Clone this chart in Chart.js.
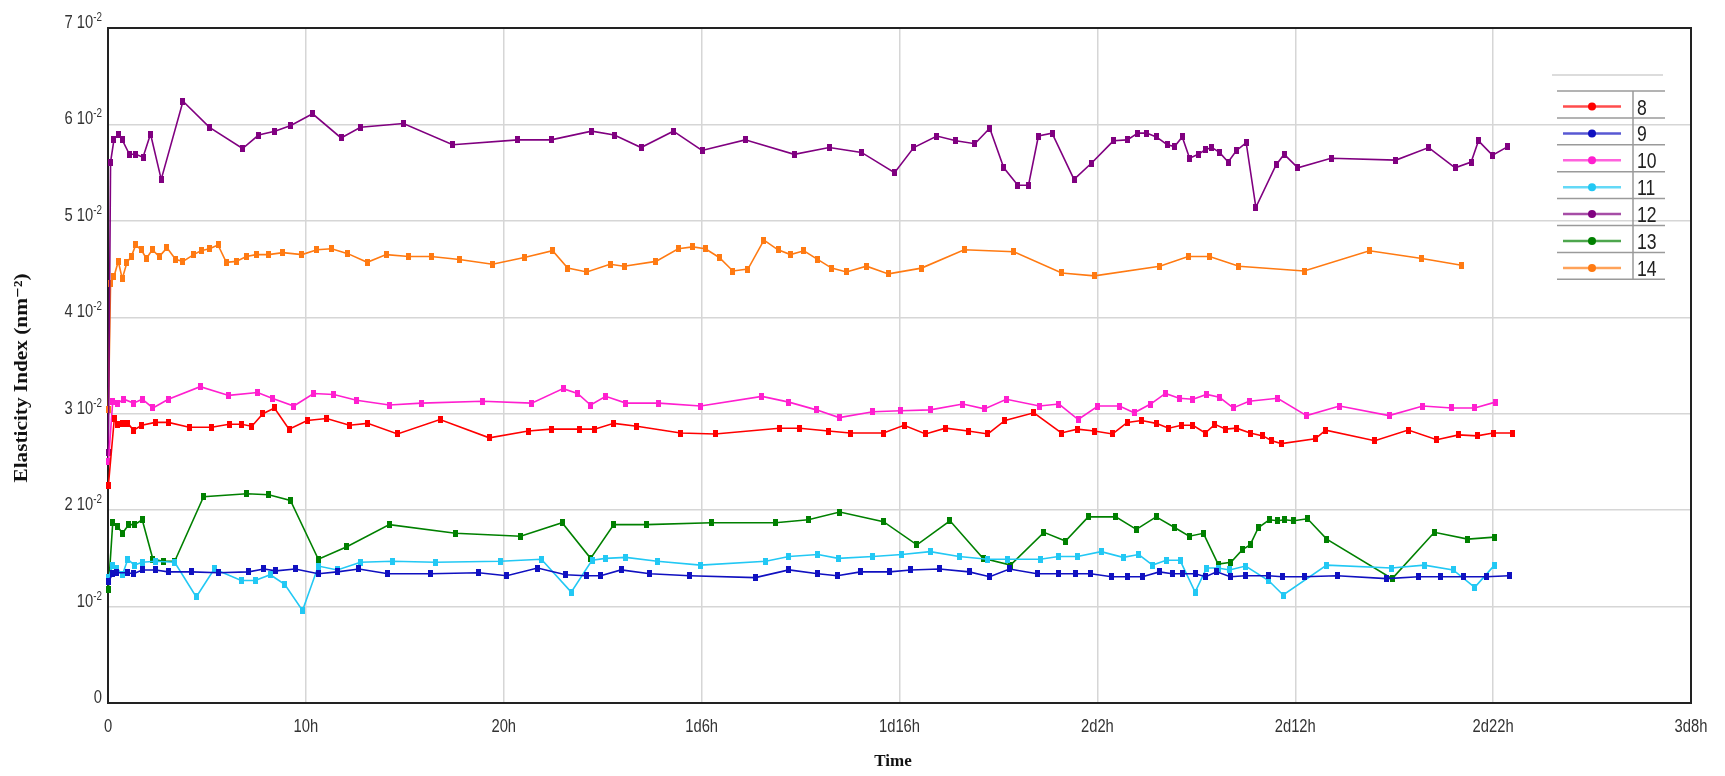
<!DOCTYPE html>
<html>
<head>
<meta charset="utf-8">
<script src="https://cdn.jsdelivr.net/npm/chart.js@4.4.1/dist/chart.umd.min.js"></script>
<style>
  body { margin: 0; background: #fff; }
  canvas { display: block; }
</style>
</head>
<body>
<canvas id="myChart" width="1725" height="776"></canvas>
<script>
// tick labels
const xTickLabels = ["0", "10h", "20h", "1d6h", "1d16h", "2d2h", "2d12h", "2d22h", "3d8h"];
const yTickBase = ["0", "10", "2 10", "3 10", "4 10", "5 10", "6 10", "7 10"];
const yTickExp = "-2";
const xTitle = "Time";
const yTitle = "Elasticity Index (nm⁻²)";

const seriesNames = ["8", "9", "10", "11", "12", "13", "14"];
const seriesColors = ["#ff0000", "#1010c0", "#ff1fcf", "#22c8f4", "#800080", "#008000", "#ff7a12"];

// [hours, value x10^-2]
const series8 = [[0.02,2.26],[0.32,2.95],[0.49,2.89],[0.73,2.90],[1.0,2.90],[1.29,2.83],[1.71,2.88],[2.39,2.91],[3.05,2.91],[4.10,2.86],[5.24,2.86],[6.12,2.89],[6.73,2.89],[7.27,2.87],[7.83,3.00],[8.41,3.06],[9.15,2.84],[10.07,2.93],[11.05,2.95],[12.20,2.88],[13.12,2.90],[14.63,2.79],[16.78,2.94],[19.27,2.75],[21.24,2.82],[22.39,2.84],[23.85,2.84],[24.59,2.84],[25.56,2.90],[26.73,2.87],[28.93,2.80],[30.68,2.79],[33.93,2.85],[34.95,2.85],[36.41,2.82],[37.50,2.80],[39.19,2.80],[40.23,2.88],[41.32,2.79],[42.32,2.85],[43.47,2.82],[44.47,2.79],[45.33,2.93],[46.79,3.01],[48.18,2.80],[48.99,2.84],[49.84,2.82],[50.77,2.79],[51.51,2.91],[52.23,2.93],[52.97,2.90],[53.60,2.85],[54.25,2.88],[54.83,2.88],[55.45,2.80],[55.94,2.89],[56.49,2.84],[57.03,2.85],[57.72,2.80],[58.37,2.77],[58.81,2.72],[59.30,2.69],[61.01,2.74],[61.54,2.83],[64.02,2.72],[65.71,2.83],[67.15,2.73],[68.26,2.78],[69.19,2.77],[70.0,2.80],[71.0,2.80]];
const series9 = [[0.02,1.26],[0.24,1.34],[0.44,1.35],[0.98,1.35],[1.29,1.34],[1.73,1.38],[2.39,1.38],[3.05,1.36],[4.22,1.36],[5.56,1.35],[7.10,1.36],[7.88,1.39],[8.49,1.37],[9.46,1.39],[10.63,1.34],[11.59,1.36],[12.68,1.39],[14.15,1.34],[16.29,1.34],[18.73,1.35],[20.15,1.32],[21.71,1.40],[23.12,1.33],[24.17,1.32],[24.90,1.32],[25.93,1.38],[27.39,1.34],[29.39,1.32],[32.71,1.30],[34.41,1.38],[35.88,1.34],[36.85,1.32],[38.03,1.36],[39.49,1.36],[40.58,1.38],[42.02,1.39],[43.52,1.36],[44.56,1.31],[45.56,1.39],[46.95,1.34],[48.06,1.34],[48.87,1.34],[49.66,1.34],[50.72,1.31],[51.54,1.31],[52.28,1.31],[53.13,1.36],[53.78,1.34],[54.32,1.34],[54.94,1.34],[55.47,1.31],[56.03,1.36],[56.72,1.31],[57.49,1.32],[58.65,1.32],[59.34,1.31],[60.45,1.31],[62.12,1.32],[64.62,1.29],[66.24,1.31],[67.33,1.31],[68.49,1.31],[69.65,1.31],[70.81,1.32]];
const series10 = [[0.02,2.50],[0.24,3.13],[0.49,3.11],[0.80,3.15],[1.29,3.11],[1.73,3.15],[2.27,3.06],[3.05,3.15],[4.66,3.28],[6.10,3.19],[7.56,3.22],[8.29,3.16],[9.39,3.08],[10.39,3.21],[11.41,3.20],[12.56,3.14],[14.22,3.09],[15.85,3.11],[18.93,3.13],[21.41,3.11],[23.0,3.26],[23.73,3.21],[24.39,3.09],[25.15,3.18],[26.17,3.11],[27.83,3.11],[29.95,3.08],[33.05,3.18],[34.41,3.12],[35.80,3.04],[36.95,2.96],[38.66,3.02],[40.07,3.03],[41.55,3.04],[43.20,3.10],[44.29,3.05],[45.40,3.15],[47.07,3.08],[48.06,3.10],[49.03,2.94],[50.03,3.08],[51.12,3.08],[51.86,3.01],[52.69,3.10],[53.44,3.21],[54.13,3.16],[54.83,3.15],[55.52,3.20],[56.17,3.17],[56.86,3.06],[57.67,3.13],[59.11,3.16],[60.57,2.98],[62.24,3.08],[64.74,2.98],[66.45,3.08],[67.91,3.06],[69.07,3.06],[70.11,3.12]];
const series11 = [[0.02,1.30],[0.24,1.43],[0.44,1.40],[0.73,1.33],[1.0,1.49],[1.34,1.43],[1.73,1.46],[2.39,1.47],[3.37,1.46],[4.46,1.10],[5.37,1.39],[6.73,1.27],[7.44,1.27],[8.20,1.33],[8.93,1.23],[9.83,0.96],[10.63,1.42],[11.59,1.38],[12.76,1.46],[14.39,1.47],[16.54,1.46],[19.83,1.47],[21.90,1.49],[23.41,1.15],[24.46,1.48],[25.15,1.50],[26.17,1.51],[27.76,1.47],[29.95,1.43],[33.24,1.47],[34.41,1.52],[35.88,1.54],[36.90,1.50],[38.66,1.52],[40.12,1.54],[41.55,1.57],[43.01,1.52],[44.45,1.49],[45.44,1.49],[47.11,1.49],[48.04,1.52],[48.99,1.52],[50.19,1.57],[51.30,1.51],[52.09,1.54],[52.79,1.43],[53.48,1.48],[54.18,1.48],[54.94,1.15],[55.52,1.40],[56.10,1.40],[56.68,1.38],[57.49,1.42],[58.65,1.27],[59.39,1.12],[61.59,1.43],[64.86,1.40],[66.52,1.43],[67.98,1.38],[69.07,1.20],[70.07,1.43]];
const series12 = [[0.02,2.60],[0.13,5.61],[0.30,5.84],[0.52,5.90],[0.72,5.84],[1.08,5.69],[1.40,5.69],[1.77,5.66],[2.15,5.90],[2.69,5.43],[3.79,6.24],[5.13,5.97],[6.80,5.75],[7.61,5.89],[8.43,5.93],[9.24,5.99],[10.34,6.11],[11.78,5.86],[12.76,5.97],[14.93,6.01],[17.42,5.79],[20.72,5.84],[22.39,5.84],[24.44,5.93],[25.59,5.89],[26.94,5.76],[28.57,5.93],[30.02,5.73],[32.2,5.84],[34.68,5.69],[36.45,5.76],[38.08,5.71],[39.75,5.50],[40.72,5.76],[41.89,5.88],[42.85,5.83],[43.81,5.80],[44.56,5.96],[45.27,5.55],[45.98,5.37],[46.52,5.37],[47.02,5.88],[47.71,5.91],[48.82,5.43],[49.71,5.60],[50.81,5.83],[51.51,5.84],[52.05,5.91],[52.49,5.91],[52.98,5.87],[53.53,5.79],[53.90,5.77],[54.29,5.87],[54.66,5.65],[55.10,5.69],[55.47,5.74],[55.79,5.76],[56.17,5.71],[56.61,5.61],[57.03,5.73],[57.52,5.81],[58.01,5.14],[59.03,5.58],[59.44,5.69],[60.13,5.55],[61.81,5.65],[65.09,5.63],[66.74,5.76],[68.08,5.55],[68.89,5.61],[69.26,5.83],[69.97,5.68],[70.74,5.77]];
const series13 = [[0.02,1.18],[0.24,1.87],[0.49,1.83],[0.73,1.76],[1.05,1.85],[1.34,1.85],[1.73,1.90],[2.27,1.49],[2.80,1.47],[3.37,1.47],[4.83,2.14],[7.02,2.17],[8.12,2.16],[9.22,2.10],[10.63,1.49],[12.07,1.62],[14.22,1.85],[17.56,1.76],[20.85,1.73],[22.95,1.87],[24.39,1.50],[25.56,1.85],[27.20,1.85],[30.49,1.87],[33.73,1.87],[35.39,1.90],[36.98,1.98],[39.19,1.88],[40.88,1.64],[42.55,1.89],[44.22,1.50],[45.61,1.43],[47.30,1.77],[48.39,1.68],[49.54,1.93],[50.93,1.93],[51.97,1.80],[52.97,1.93],[53.90,1.82],[54.64,1.73],[55.36,1.76],[56.10,1.44],[56.75,1.46],[57.33,1.59],[57.72,1.64],[58.14,1.82],[58.69,1.90],[59.11,1.89],[59.46,1.90],[59.92,1.89],[60.62,1.91],[61.59,1.70],[64.90,1.29],[67.03,1.77],[68.72,1.70],[70.07,1.72]];
const series14 = [[0.02,3.04],[0.13,4.35],[0.30,4.42],[0.52,4.58],[0.72,4.40],[0.96,4.57],[1.18,4.63],[1.40,4.75],[1.68,4.70],[1.94,4.61],[2.24,4.70],[2.59,4.63],[2.98,4.72],[3.42,4.60],[3.79,4.58],[4.33,4.65],[4.70,4.69],[5.13,4.71],[5.56,4.75],[5.98,4.57],[6.48,4.58],[6.99,4.63],[7.49,4.65],[8.11,4.65],[8.84,4.67],[9.80,4.65],[10.56,4.70],[11.30,4.71],[12.12,4.66],[13.10,4.57],[14.06,4.65],[15.20,4.63],[16.33,4.63],[17.76,4.60],[19.43,4.55],[21.04,4.62],[22.47,4.69],[23.23,4.51],[24.20,4.47],[25.37,4.55],[26.08,4.53],[27.69,4.58],[28.82,4.71],[29.55,4.73],[30.19,4.71],[30.89,4.62],[31.58,4.48],[32.34,4.50],[33.15,4.80],[33.86,4.70],[34.49,4.65],[35.17,4.69],[35.86,4.60],[36.57,4.51],[37.32,4.47],[38.33,4.53],[39.44,4.45],[41.11,4.51],[43.27,4.70],[45.78,4.68],[48.20,4.46],[49.85,4.43],[53.15,4.53],[54.59,4.63],[55.67,4.63],[57.15,4.53],[60.45,4.48],[63.75,4.69],[66.40,4.61],[68.40,4.54]];

const allSeries = [series8, series9, series10, series11, series12, series13, series14];

const sans = "'Liberation Sans', Arial, sans-serif";
const serif = "'Liberation Serif', 'DejaVu Serif', serif";

// small rectangle marker
function marker(color) {
  const c = document.createElement("canvas");
  c.width = 5;
  c.height = 7;
  const g = c.getContext("2d");
  g.fillStyle = color;
  g.fillRect(0, 0, 5, 7);
  return c;
}

// lighter tint for legend lines
function tint(hex, k) {
  const n = parseInt(hex.slice(1), 16);
  const r = (n >> 16) & 255, g = (n >> 8) & 255, b = n & 255;
  const m = (v) => Math.round(v + (255 - v) * k);
  return "rgb(" + m(r) + "," + m(g) + "," + m(b) + ")";
}

// text squeezed sideways, like the narrow font of the original
function narrowText(ctx, text, x, y, size, align, sx) {
  ctx.save();
  ctx.translate(x, y);
  ctx.scale(sx, 1);
  ctx.font = size + "px " + sans;
  ctx.textAlign = align;
  ctx.fillText(text, 0, 0);
  const w = ctx.measureText(text).width * sx;
  ctx.restore();
  return w;
}

const frame = {
  id: "frame",
  beforeDatasetsDraw: (chart) => {
    const { ctx, chartArea } = chart;
    ctx.save();
    ctx.strokeStyle = "#222";
    ctx.lineWidth = 2;
    ctx.strokeRect(chartArea.left, chartArea.top, chartArea.right - chartArea.left, chartArea.bottom - chartArea.top);
    ctx.restore();
  },
};

const axisText = {
  id: "axisText",
  afterDraw: (chart) => {
    const { ctx, chartArea } = chart;
    const x = chart.scales.x, y = chart.scales.y;
    ctx.save();
    ctx.fillStyle = "#333";
    ctx.textBaseline = "alphabetic";
    // y ticks
    yTickBase.forEach((base, i) => {
      const py = y.getPixelForValue(i);
      let right = 102;
      if (i > 0) {
        right -= narrowText(ctx, yTickExp, right, py - 7, 12, "right", 0.82);
      }
      narrowText(ctx, base, right, py, 18, "right", 0.82);
    });
    // x ticks
    xTickLabels.forEach((lab, i) => {
      narrowText(ctx, lab, x.getPixelForValue(i * 10), chartArea.bottom + 29, 18, "center", 0.82);
    });
    // titles
    ctx.fillStyle = "#111";
    ctx.font = "bold 17px " + serif;
    ctx.textAlign = "center";
    ctx.textBaseline = "middle";
    ctx.fillText(xTitle, 893, 762);
    ctx.translate(22, 378);
    ctx.rotate(-Math.PI / 2);
    ctx.scale(1.12, 1);
    ctx.font = "bold 19px " + serif;
    ctx.fillText(yTitle, 0, 0);
    ctx.restore();
  },
};

const boxLegend = {
  id: "boxLegend",
  afterDraw: (chart) => {
    const { ctx } = chart;
    const top = 91, rowH = 26.9;
    ctx.save();
    ctx.strokeStyle = "#d0d0d0";
    ctx.lineWidth = 1.5;
    ctx.beginPath();
    ctx.moveTo(1552, 75);
    ctx.lineTo(1663, 75);
    ctx.stroke();
    ctx.strokeStyle = "#9a9a9a";
    for (let i = 0; i <= chart.data.datasets.length; i++) {
      ctx.beginPath();
      ctx.moveTo(1557, top + i * rowH);
      ctx.lineTo(1665, top + i * rowH);
      ctx.stroke();
    }
    ctx.beginPath();
    ctx.moveTo(1633, top);
    ctx.lineTo(1633, top + chart.data.datasets.length * rowH);
    ctx.stroke();
    chart.data.datasets.forEach((ds, i) => {
      const cy = top + i * rowH + 15.5;
      ctx.strokeStyle = tint(ds.borderColor, 0.3);
      ctx.lineWidth = 2.5;
      ctx.beginPath();
      ctx.moveTo(1563, cy);
      ctx.lineTo(1621, cy);
      ctx.stroke();
      ctx.fillStyle = ds.borderColor;
      ctx.beginPath();
      ctx.arc(1592, cy, 4, 0, Math.PI * 2);
      ctx.fill();
      ctx.fillStyle = "#222";
      ctx.textBaseline = "middle";
      narrowText(ctx, ds.label, 1637, cy + 2, 22, "left", 0.8);
    });
    ctx.restore();
  },
};

const datasets = allSeries.map((pts, i) => ({
  label: seriesNames[i],
  data: pts.map(([x, y]) => ({ x: x, y: y })),
  borderColor: seriesColors[i],
  backgroundColor: seriesColors[i],
  borderWidth: 1.6,
  pointStyle: marker(seriesColors[i]),
  pointRadius: 3,
  tension: 0,
  clip: false,
}));

new Chart(document.getElementById("myChart"), {
  type: "line",
  data: { datasets: datasets },
  options: {
    responsive: false,
    animation: false,
    devicePixelRatio: 1,
    layout: { padding: { top: 28, right: 34, left: 0, bottom: 0 } },
    plugins: {
      legend: { display: false },
      tooltip: { enabled: false },
    },
    scales: {
      x: {
        type: "linear",
        min: 0,
        max: 80,
        border: { display: false },
        grid: { color: "#d6d6d6", lineWidth: 1.5, drawTicks: false },
        ticks: { stepSize: 10, display: false },
        afterFit: (scale) => {
          scale.height = 73;
        },
      },
      y: {
        min: 0,
        max: 7,
        border: { display: false },
        grid: { color: "#d6d6d6", lineWidth: 1.5, drawTicks: false },
        ticks: { stepSize: 1, display: false },
        afterFit: (scale) => {
          scale.width = 108;
        },
      },
    },
  },
  plugins: [frame, axisText, boxLegend],
});
</script>
</body>
</html>
